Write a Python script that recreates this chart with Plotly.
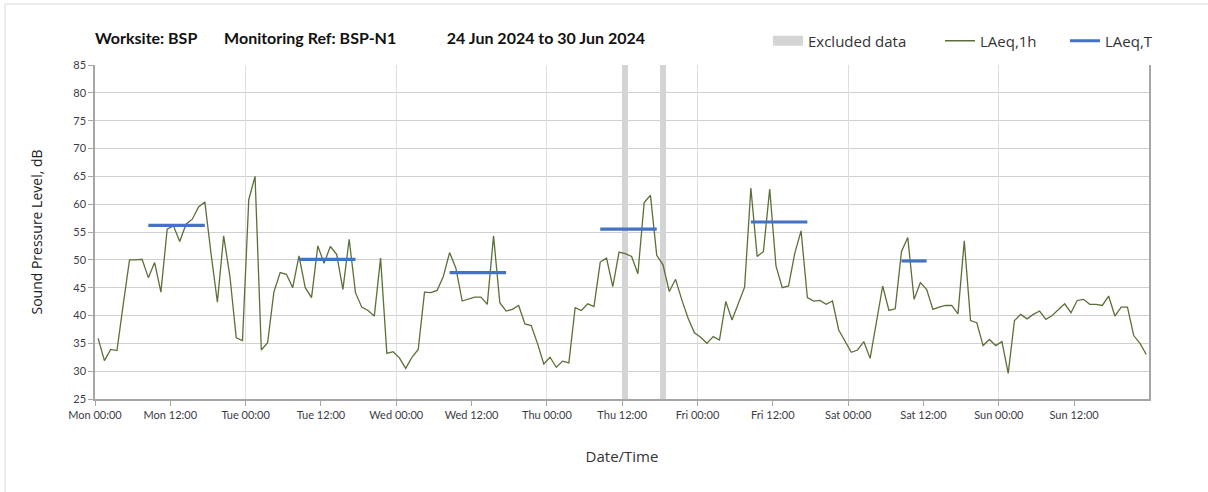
import pandas as pd
import plotly.graph_objects as go

# ---------------- data ----------------
start_time = "2024-06-24 00:30"
laeq_1h = [
    35.9, 31.9, 33.9, 33.7, 42.0, 50.0, 50.0, 50.1, 46.8, 49.5, 44.2, 55.5, 56.1,
    53.3, 56.4, 57.3, 59.5, 60.4, 51.0, 42.4, 54.3, 47.0, 36.0, 35.5, 60.8, 65.0,
    33.8, 35.1, 44.2, 47.7, 47.4, 45.0, 50.7, 45.0, 43.2, 52.5, 49.4, 52.4, 51.0,
    44.7, 53.7, 44.1, 41.5, 40.9, 39.9, 50.3, 33.2, 33.5, 32.4, 30.5, 32.5, 33.9,
    44.2, 44.1, 44.5, 47.0, 51.3, 48.5, 42.6, 43.0, 43.3, 43.3, 42.0, 54.3, 42.3,
    40.8, 41.1, 41.8, 38.5, 38.2, 35.0, 31.3, 32.5, 30.7, 31.8, 31.5, 41.4, 40.9,
    42.1, 41.6, 49.6, 50.3, 45.2, 51.4, 51.1, 50.6, 47.5, 60.3, 61.6, 50.8, 49.1,
    44.3, 46.5, 42.8, 39.5, 36.9, 36.1, 35.0, 36.2, 35.6, 42.5, 39.2, 42.0, 45.1,
    62.9, 50.6, 51.5, 62.7, 48.9, 45.0, 45.3, 51.2, 55.2, 43.2, 42.6, 42.7, 42.0,
    42.6, 37.4, 35.3, 33.4, 33.8, 35.3, 32.3, 38.8, 45.3, 40.9, 41.2,
    51.5, 54.0, 42.9, 45.9, 44.7, 41.1, 41.5, 41.8, 41.8, 40.3, 53.4, 39.1, 38.7,
    34.6, 35.7, 34.6, 35.3, 29.6, 39.1, 40.2, 39.4, 40.2, 40.8,
    39.3, 40.0, 41.1, 42.1, 40.5, 42.7, 42.9, 42.0, 42.0, 41.8, 43.5, 39.9, 41.5,
    41.5, 36.4, 35.0, 33.0,
]
times = pd.date_range(start_time, periods=len(laeq_1h), freq="h")

laeqT_start = ["2024-06-24 08:30", "2024-06-25 08:30", "2024-06-26 08:30",
               "2024-06-27 08:30", "2024-06-28 08:30", "2024-06-29 08:30"]
laeqT_end = ["2024-06-24 17:30", "2024-06-25 17:30", "2024-06-26 17:30",
             "2024-06-27 17:30", "2024-06-28 17:30", "2024-06-29 12:30"]
laeqT_values = [56.2, 50.1, 47.7, 55.5, 56.8, 49.8]

excluded_start = ["2024-06-27 12:00", "2024-06-27 18:00"]
excluded_end = ["2024-06-27 13:00", "2024-06-27 19:00"]

y_min, y_max = 25, 85
x_start, x_end = "2024-06-24 00:00", "2024-06-30 23:56"

NB = "\u00a0"
title_text = ("Worksite: BSP" + NB * 7 + "Monitoring Ref: BSP-N1" + NB * 13
              + "24 Jun 2024 to 30 Jun 2024")

# ---------------- figure ----------------
W, H = 1208, 492
ML, MR, MT, MB = 95, 59, 65, 93
pw, ph = W - ML - MR, H - MT - MB

def px_x(p):
    return (p - ML) / pw

def px_y(p):
    return (H - MB - p) / ph

fig = go.Figure()

# excluded bands as bars
ex_s = pd.to_datetime(excluded_start)
ex_e = pd.to_datetime(excluded_end)
ex_mid = ex_s + (ex_e - ex_s) / 2
ex_w = [(e - s).total_seconds() * 1000 for s, e in zip(ex_s, ex_e)]
fig.add_trace(go.Bar(
    x=ex_mid, y=[y_max - y_min] * len(ex_mid), base=[y_min] * len(ex_mid),
    width=ex_w, marker=dict(color="#d4d4d4", line=dict(width=0)),
    showlegend=False, hoverinfo="skip",
))
# legend proxy for excluded data
fig.add_trace(go.Scatter(
    x=[None], y=[None], mode="lines", name="Excluded data",
    line=dict(color="#d4d4d4", width=10), legend="legend",
))

fig.add_trace(go.Scatter(
    x=times, y=laeq_1h, mode="lines", name="LAeq,1h",
    line=dict(color="#5b7038", width=1.3), legend="legend2",
))

bx, by = [], []
for s, e, v in zip(laeqT_start, laeqT_end, laeqT_values):
    bx += [pd.Timestamp(s), pd.Timestamp(e), None]
    by += [v, v, None]
fig.add_trace(go.Scatter(
    x=bx, y=by, mode="lines", name="LAeq,T",
    line=dict(color="#4472c4", width=3.2), legend="legend3",
    connectgaps=False,
))

tick_font = dict(family="Lato", size=11, color="#3c3c46")
leg_font = dict(family="Open Sans", size=15, color="#333333")

fig.update_layout(
    width=W, height=H,
    margin=dict(l=ML, r=MR, t=MT, b=MB),
    paper_bgcolor="white", plot_bgcolor="white",
    bargap=0,
    title=dict(text=title_text, xref="paper", x=0, xanchor="left",
               yref="container", y=1 - 38 / H, yanchor="middle",
               font=dict(family="Lato", size=16, color="#111111", weight="bold")),
    xaxis=dict(
        type="date", range=[x_start, x_end],
        tick0="2024-06-24 00:00", dtick=12 * 3600 * 1000,
        tickformat="%a %H:%M", tickfont=tick_font,
        ticks="outside", ticklen=5, tickcolor="#a6a6a6",
        showgrid=False, showline=True, linecolor="#a6a6a6", linewidth=1.5,
        zeroline=False,
        title=dict(text="Date/Time", standoff=32,
                   font=dict(family="Open Sans", size=15, color="#333333")),
    ),
    xaxis2=dict(
        type="date", range=[x_start, x_end], overlaying="x",
        tick0="2024-06-24 00:00", dtick=24 * 3600 * 1000,
        showticklabels=False, ticks="", showgrid=True,
        gridcolor="#dedede", gridwidth=1, zeroline=False, showline=False,
    ),
    yaxis=dict(
        range=[y_min, y_max], dtick=5, tickfont=tick_font,
        ticks="outside", ticklen=5, tickcolor="#a6a6a6",
        showgrid=True, gridcolor="#d0d0d0", gridwidth=1,
        showline=True, linecolor="#a6a6a6", linewidth=1.5, mirror=True,
        zeroline=False,
        title=dict(text="Sound Pressure Level, dB", standoff=27,
                   font=dict(family="Open Sans", size=14, color="#222222")),
    ),
    legend=dict(orientation="h", x=px_x(768), xanchor="left", y=px_y(41),
                yanchor="middle", font=leg_font, bgcolor="rgba(0,0,0,0)"),
    legend2=dict(orientation="h", x=px_x(940), xanchor="left", y=px_y(41),
                 yanchor="middle", font=leg_font, bgcolor="rgba(0,0,0,0)"),
    legend3=dict(orientation="h", x=px_x(1065), xanchor="left", y=px_y(41),
                 yanchor="middle", font=leg_font, bgcolor="rgba(0,0,0,0)"),
    shapes=[dict(type="rect", xref="paper", yref="paper",
                 x0=px_x(5), x1=px_x(1260), y0=px_y(560), y1=px_y(4),
                 line=dict(color="#d9d9d9", width=1), fillcolor="rgba(0,0,0,0)",
                 layer="below")],
)

# dummy trace on xaxis2 so its grid is drawn
fig.add_trace(go.Scatter(x=[x_start], y=[None], xaxis="x2", showlegend=False,
                         hoverinfo="skip"))

fig.write_html(
    "out.html",
    config={"displayModeBar": False},
    post_script="document.body.style.margin='0';document.body.style.padding='0';",
)
